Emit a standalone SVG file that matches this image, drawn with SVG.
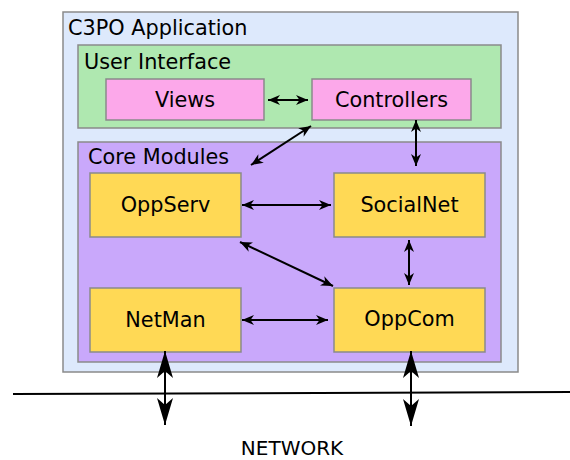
<svg xmlns="http://www.w3.org/2000/svg" width="570" height="460" viewBox="0 0 570 460">
<style>
text{font-family:"DejaVu Sans","Noto Sans",sans-serif;font-size:20.8px;fill:#000}
.c{text-anchor:middle}
.net{font-size:20px}
.box{stroke:#8a8a8a;stroke-width:1.5}
.outer{fill:#dde9fc}
.ui{fill:#afe8b0}
.pink{fill:#fca8ea}
.core{fill:#c9a8fb}
.mod{fill:#ffd955}
.a{stroke:#000;stroke-width:2;fill:none;marker-start:url(#sa);marker-end:url(#sa)}
.b{stroke:#000;stroke-width:2;fill:none;marker-start:url(#ba);marker-end:url(#ba)}
</style>
<defs>
<marker id="sa" markerUnits="userSpaceOnUse" viewBox="-13 -6 15 12" refX="0" refY="0" markerWidth="15" markerHeight="12" orient="auto-start-reverse">
<path d="M0,0 L-12,-5 L-8.5,0 L-12,5 Z" fill="#000"/>
</marker>
<marker id="ba" markerUnits="userSpaceOnUse" viewBox="-28 -9 30 18" refX="0" refY="0" markerWidth="30" markerHeight="18" orient="auto-start-reverse">
<path d="M0,0 L-27,-8 L-20,0 L-27,8 Z" fill="#000"/>
</marker>
</defs>
<g id="app">
<rect class="box outer" x="63" y="12" width="455" height="360"/>
<text x="68" y="35">C3PO Application</text>
</g>
<g id="user-interface">
<rect class="box ui" x="78" y="45" width="423" height="83"/>
<text x="84" y="69">User Interface</text>
</g>
<g id="views">
<rect class="box pink" x="106" y="79" width="158" height="41"/>
<text class="c" x="185" y="107">Views</text>
</g>
<g id="controllers">
<rect class="box pink" x="312" y="79" width="159" height="41"/>
<text class="c" x="391.5" y="107">Controllers</text>
</g>
<g id="core-modules">
<rect class="box core" x="78" y="142" width="423" height="220"/>
<text x="88" y="164">Core Modules</text>
</g>
<g id="oppserv">
<rect class="box mod" x="90" y="173" width="151" height="64"/>
<text class="c" x="165.5" y="212">OppServ</text>
</g>
<g id="socialnet">
<rect class="box mod" x="334" y="173" width="151" height="64"/>
<text class="c" x="409.5" y="212">SocialNet</text>
</g>
<g id="netman">
<rect class="box mod" x="90" y="288" width="151" height="64"/>
<text class="c" x="165.5" y="327">NetMan</text>
</g>
<g id="oppcom">
<rect class="box mod" x="334" y="288" width="151" height="64"/>
<text class="c" x="409.5" y="326">OppCom</text>
</g>
<g id="network">
<line x1="13" y1="394" x2="570" y2="392" stroke="#000" stroke-width="2"/>
<text class="c net" x="292" y="455">NETWORK</text>
</g>
<g id="connectors">
<line class="a" x1="268" y1="100" x2="308" y2="100"/>
<line class="a" x1="311" y1="126" x2="251" y2="165"/>
<line class="a" x1="416" y1="120" x2="416" y2="166"/>
<line class="a" x1="242" y1="205" x2="331" y2="205"/>
<line class="a" x1="240" y1="242" x2="333" y2="286"/>
<line class="a" x1="409" y1="240" x2="409" y2="285"/>
<line class="a" x1="242" y1="320" x2="328" y2="320"/>
<line class="b" x1="165" y1="351" x2="165" y2="425"/>
<line class="b" x1="411" y1="351" x2="411" y2="426"/>
</g>
</svg>
